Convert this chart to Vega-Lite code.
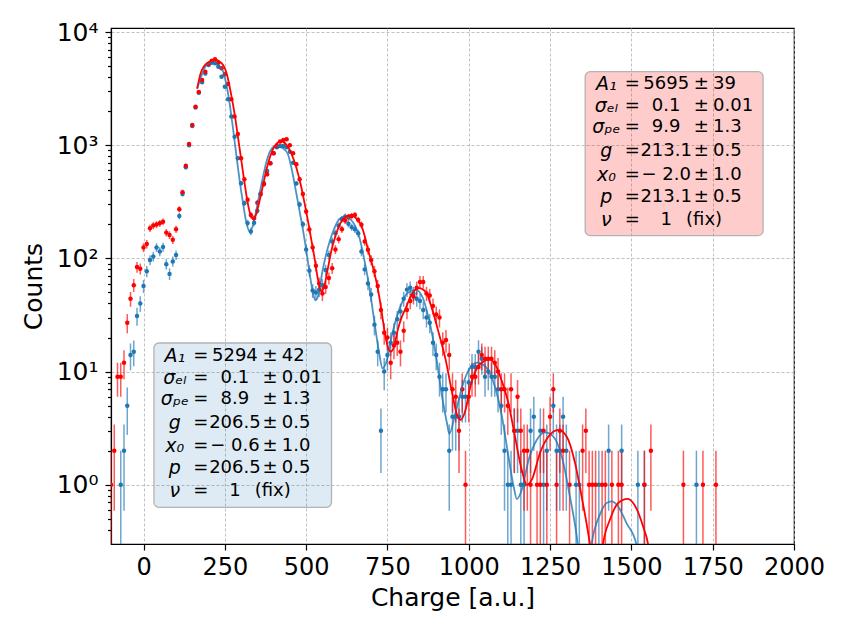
{
  "$schema": "https://vega.github.io/schema/vega-lite/v6.json",
  "width": 683,
  "height": 516,
  "autosize": {"type": "none"},
  "padding": {"left": 111, "top": 28, "right": 53, "bottom": 91},
  "config": {
    "font": "DejaVu Sans",
    "view": {"stroke": "black", "strokeWidth": 1.2},
    "axis": {
      "domainColor": "black", "domainWidth": 1.2,
      "tickColor": "black", "tickWidth": 1.2,
      "gridColor": "#b0b0b0", "gridDash": [3, 2], "gridWidth": 0.8,
      "labelColor": "black", "titleColor": "black",
      "titleFontWeight": "normal", "labelFont": "DejaVu Sans", "titleFont": "DejaVu Sans"
    }
  },
  "datasets": {
    "pts": [
      {"s":"b","x":-70,"n":1,"lo":0.1,"hi":2},
      {"s":"b","x":-60,"n":2,"lo":0.59,"hi":3.41},
      {"s":"b","x":-50,"n":5,"lo":2.76,"hi":7.24},
      {"s":"b","x":-40,"n":14,"lo":10.26,"hi":17.74},
      {"s":"b","x":-30,"n":15,"lo":11.13,"hi":18.87},
      {"s":"b","x":-20,"n":31,"lo":25.43,"hi":36.57},
      {"s":"b","x":-10,"n":40,"lo":33.68,"hi":46.32},
      {"s":"b","x":0,"n":57,"lo":49.45,"hi":64.55},
      {"s":"b","x":10,"n":77,"lo":68.23,"hi":85.77},
      {"s":"b","x":20,"n":97,"lo":87.15,"hi":106.85},
      {"s":"b","x":30,"n":104,"lo":93.8,"hi":114.2},
      {"s":"b","x":40,"n":125,"lo":113.8,"hi":136.2},
      {"s":"b","x":50,"n":115,"lo":104.3,"hi":125.7},
      {"s":"b","x":60,"n":126,"lo":114.8,"hi":137.2},
      {"s":"b","x":70,"n":89,"lo":79.6,"hi":98.4},
      {"s":"b","x":80,"n":73,"lo":64.5,"hi":81.5},
      {"s":"b","x":90,"n":94,"lo":84.3,"hi":103.7},
      {"s":"b","x":100,"n":107,"lo":96.7,"hi":117.3},
      {"s":"b","x":110,"n":237,"lo":221.6,"hi":252.4},
      {"s":"b","x":120,"n":371,"lo":351.7,"hi":390.3},
      {"s":"b","x":130,"n":640,"lo":614.7,"hi":665.3},
      {"s":"b","x":140,"n":1000,"lo":968,"hi":1032},
      {"s":"b","x":150,"n":1480,"lo":1442,"hi":1518},
      {"s":"b","x":160,"n":2150,"lo":2104,"hi":2196},
      {"s":"b","x":170,"n":2900,"lo":2846,"hi":2954},
      {"s":"b","x":180,"n":3600,"lo":3540,"hi":3660},
      {"s":"b","x":190,"n":4300,"lo":4234,"hi":4366},
      {"s":"b","x":200,"n":5110,"lo":5039,"hi":5181},
      {"s":"b","x":210,"n":5360,"lo":5287,"hi":5433},
      {"s":"b","x":220,"n":5290,"lo":5217,"hi":5363},
      {"s":"b","x":230,"n":4940,"lo":4870,"hi":5010},
      {"s":"b","x":240,"n":4030,"lo":3967,"hi":4093},
      {"s":"b","x":250,"n":3290,"lo":3233,"hi":3347},
      {"s":"b","x":260,"n":2550,"lo":2500,"hi":2600},
      {"s":"b","x":270,"n":1790,"lo":1748,"hi":1832},
      {"s":"b","x":280,"n":1190,"lo":1155,"hi":1225},
      {"s":"b","x":290,"n":767,"lo":739,"hi":795},
      {"s":"b","x":300,"n":461,"lo":439.5,"hi":482.5},
      {"s":"b","x":310,"n":307,"lo":289.5,"hi":324.5},
      {"s":"b","x":320,"n":205,"lo":190.7,"hi":219.3},
      {"s":"b","x":330,"n":173,"lo":159.8,"hi":186.2},
      {"s":"b","x":340,"n":207,"lo":192.6,"hi":221.4},
      {"s":"b","x":350,"n":263,"lo":246.8,"hi":279.2},
      {"s":"b","x":360,"n":371,"lo":351.7,"hi":390.3},
      {"s":"b","x":370,"n":461,"lo":439.5,"hi":482.5},
      {"s":"b","x":380,"n":593,"lo":568.6,"hi":617.4},
      {"s":"b","x":390,"n":692,"lo":665.7,"hi":718.3},
      {"s":"b","x":400,"n":849,"lo":819.9,"hi":878.1},
      {"s":"b","x":410,"n":959,"lo":928,"hi":990},
      {"s":"b","x":420,"n":985,"lo":953.6,"hi":1016.4},
      {"s":"b","x":430,"n":985,"lo":953.6,"hi":1016.4},
      {"s":"b","x":440,"n":959,"lo":928,"hi":990},
      {"s":"b","x":450,"n":877,"lo":847.4,"hi":906.6},
      {"s":"b","x":460,"n":700,"lo":673.5,"hi":726.5},
      {"s":"b","x":470,"n":460,"lo":438.6,"hi":481.4},
      {"s":"b","x":480,"n":300,"lo":282.7,"hi":317.3},
      {"s":"b","x":490,"n":200,"lo":185.9,"hi":214.1},
      {"s":"b","x":500,"n":120,"lo":109,"hi":131},
      {"s":"b","x":510,"n":78,"lo":69.2,"hi":86.8},
      {"s":"b","x":520,"n":52,"lo":44.8,"hi":59.2},
      {"s":"b","x":530,"n":50,"lo":42.9,"hi":57.1},
      {"s":"b","x":540,"n":53,"lo":45.7,"hi":60.3},
      {"s":"b","x":550,"n":58,"lo":50.4,"hi":65.6},
      {"s":"b","x":560,"n":79,"lo":70.1,"hi":87.9},
      {"s":"b","x":570,"n":107,"lo":96.7,"hi":117.3},
      {"s":"b","x":580,"n":141,"lo":129.1,"hi":152.9},
      {"s":"b","x":590,"n":167,"lo":154.1,"hi":179.9},
      {"s":"b","x":600,"n":194,"lo":180.1,"hi":207.9},
      {"s":"b","x":610,"n":222,"lo":207.1,"hi":236.9},
      {"s":"b","x":620,"n":234,"lo":218.7,"hi":249.3},
      {"s":"b","x":630,"n":202,"lo":187.8,"hi":216.2},
      {"s":"b","x":640,"n":189,"lo":175.3,"hi":202.7},
      {"s":"b","x":650,"n":181,"lo":167.5,"hi":194.5},
      {"s":"b","x":660,"n":167,"lo":154.1,"hi":179.9},
      {"s":"b","x":670,"n":115,"lo":104.3,"hi":125.7},
      {"s":"b","x":680,"n":80,"lo":71.1,"hi":88.9},
      {"s":"b","x":690,"n":60,"lo":52.3,"hi":67.7},
      {"s":"b","x":700,"n":48,"lo":41.1,"hi":54.9},
      {"s":"b","x":710,"n":26,"lo":20.9,"hi":31.1},
      {"s":"b","x":720,"n":15,"lo":11.13,"hi":18.87},
      {"s":"b","x":730,"n":3,"lo":1.27,"hi":4.73},
      {"s":"b","x":740,"n":10,"lo":6.84,"hi":13.16},
      {"s":"b","x":750,"n":14,"lo":10.26,"hi":17.74},
      {"s":"b","x":760,"n":18,"lo":13.76,"hi":22.24},
      {"s":"b","x":770,"n":22,"lo":17.31,"hi":26.69},
      {"s":"b","x":780,"n":29,"lo":23.61,"hi":34.39},
      {"s":"b","x":790,"n":34,"lo":28.17,"hi":39.83},
      {"s":"b","x":800,"n":44,"lo":37.37,"hi":50.63},
      {"s":"b","x":810,"n":53,"lo":45.72,"hi":60.28},
      {"s":"b","x":820,"n":55,"lo":47.58,"hi":62.42},
      {"s":"b","x":830,"n":49,"lo":42,"hi":56},
      {"s":"b","x":840,"n":44,"lo":37.37,"hi":50.63},
      {"s":"b","x":850,"n":42,"lo":35.52,"hi":48.48},
      {"s":"b","x":860,"n":35,"lo":29.08,"hi":40.92},
      {"s":"b","x":870,"n":30,"lo":24.52,"hi":35.48},
      {"s":"b","x":880,"n":27,"lo":21.8,"hi":32.2},
      {"s":"b","x":890,"n":18,"lo":13.76,"hi":22.24},
      {"s":"b","x":900,"n":14,"lo":10.26,"hi":17.74},
      {"s":"b","x":910,"n":9,"lo":6,"hi":12},
      {"s":"b","x":920,"n":7,"lo":4.35,"hi":9.65},
      {"s":"b","x":930,"n":7,"lo":4.35,"hi":9.65},
      {"s":"b","x":940,"n":2,"lo":0.59,"hi":3.41},
      {"s":"b","x":950,"n":4,"lo":2,"hi":6},
      {"s":"b","x":960,"n":4,"lo":2,"hi":6},
      {"s":"b","x":970,"n":4,"lo":2,"hi":6},
      {"s":"b","x":980,"n":6,"lo":3.55,"hi":8.45},
      {"s":"b","x":990,"n":6,"lo":3.55,"hi":8.45},
      {"s":"b","x":1000,"n":8,"lo":5.17,"hi":10.83},
      {"s":"b","x":1010,"n":11,"lo":7.68,"hi":14.32},
      {"s":"b","x":1020,"n":11,"lo":7.68,"hi":14.32},
      {"s":"b","x":1030,"n":15,"lo":11.13,"hi":18.87},
      {"s":"b","x":1040,"n":13,"lo":9.39,"hi":16.61},
      {"s":"b","x":1050,"n":9,"lo":6,"hi":12},
      {"s":"b","x":1060,"n":10,"lo":6.84,"hi":13.16},
      {"s":"b","x":1070,"n":9,"lo":6,"hi":12},
      {"s":"b","x":1080,"n":9,"lo":6,"hi":12},
      {"s":"b","x":1090,"n":7,"lo":4.35,"hi":9.65},
      {"s":"b","x":1100,"n":5,"lo":2.76,"hi":7.24},
      {"s":"b","x":1110,"n":2,"lo":0.59,"hi":3.41},
      {"s":"b","x":1120,"n":1,"lo":0.1,"hi":2},
      {"s":"b","x":1130,"n":1,"lo":0.1,"hi":2},
      {"s":"b","x":1140,"n":3,"lo":1.27,"hi":4.73},
      {"s":"b","x":1150,"n":3,"lo":1.27,"hi":4.73},
      {"s":"b","x":1160,"n":1,"lo":0.1,"hi":2},
      {"s":"b","x":1170,"n":1,"lo":0.1,"hi":2},
      {"s":"b","x":1190,"n":3,"lo":1.27,"hi":4.73},
      {"s":"b","x":1200,"n":4,"lo":2,"hi":6},
      {"s":"b","x":1220,"n":3,"lo":1.27,"hi":4.73},
      {"s":"b","x":1230,"n":1,"lo":0.1,"hi":2},
      {"s":"b","x":1240,"n":2,"lo":0.59,"hi":3.41},
      {"s":"b","x":1260,"n":5,"lo":2.76,"hi":7.24},
      {"s":"b","x":1270,"n":2,"lo":0.59,"hi":3.41},
      {"s":"b","x":1280,"n":2,"lo":0.59,"hi":3.41},
      {"s":"b","x":1290,"n":4,"lo":2,"hi":6},
      {"s":"b","x":1300,"n":2,"lo":0.59,"hi":3.41},
      {"s":"b","x":1330,"n":1,"lo":0.1,"hi":2},
      {"s":"b","x":1340,"n":1,"lo":0.1,"hi":2},
      {"s":"b","x":1400,"n":1,"lo":0.1,"hi":2},
      {"s":"b","x":1430,"n":2,"lo":0.59,"hi":3.41},
      {"s":"b","x":1470,"n":2,"lo":0.59,"hi":3.41},
      {"s":"b","x":1520,"n":1,"lo":0.1,"hi":2},
      {"s":"b","x":1540,"n":1,"lo":0.1,"hi":2},
      {"s":"b","x":1700,"n":1,"lo":0.1,"hi":2},
      {"s":"r","x":-100,"n":1,"lo":0.1,"hi":2},
      {"s":"r","x":-90,"n":2,"lo":0.59,"hi":3.41},
      {"s":"r","x":-80,"n":9,"lo":6,"hi":12},
      {"s":"r","x":-70,"n":9,"lo":6,"hi":12},
      {"s":"r","x":-60,"n":12,"lo":8.54,"hi":15.46},
      {"s":"r","x":-50,"n":27,"lo":21.8,"hi":32.2},
      {"s":"r","x":-40,"n":44,"lo":37.37,"hi":50.63},
      {"s":"r","x":-30,"n":58,"lo":50.38,"hi":65.62},
      {"s":"r","x":-20,"n":84,"lo":74.83,"hi":93.17},
      {"s":"r","x":-10,"n":81,"lo":72,"hi":90},
      {"s":"r","x":0,"n":125,"lo":113.8,"hi":136.2},
      {"s":"r","x":10,"n":134,"lo":122.4,"hi":145.6},
      {"s":"r","x":20,"n":185,"lo":171.4,"hi":198.6},
      {"s":"r","x":30,"n":195,"lo":181,"hi":209},
      {"s":"r","x":40,"n":199,"lo":184.9,"hi":213.1},
      {"s":"r","x":50,"n":204,"lo":189.7,"hi":218.3},
      {"s":"r","x":60,"n":211,"lo":196.5,"hi":225.5},
      {"s":"r","x":70,"n":169,"lo":156,"hi":182},
      {"s":"r","x":80,"n":161,"lo":148.3,"hi":173.7},
      {"s":"r","x":90,"n":146,"lo":133.9,"hi":158.1},
      {"s":"r","x":100,"n":181,"lo":167.5,"hi":194.5},
      {"s":"r","x":110,"n":272,"lo":255.5,"hi":288.5},
      {"s":"r","x":120,"n":385,"lo":365.4,"hi":404.6},
      {"s":"r","x":130,"n":660,"lo":634.3,"hi":685.7},
      {"s":"r","x":140,"n":1025,"lo":993,"hi":1057},
      {"s":"r","x":150,"n":1510,"lo":1471,"hi":1549},
      {"s":"r","x":160,"n":2190,"lo":2143,"hi":2237},
      {"s":"r","x":170,"n":2950,"lo":2896,"hi":3004},
      {"s":"r","x":180,"n":3770,"lo":3709,"hi":3831},
      {"s":"r","x":190,"n":4460,"lo":4393,"hi":4527},
      {"s":"r","x":200,"n":5220,"lo":5148,"hi":5292},
      {"s":"r","x":210,"n":5580,"lo":5505,"hi":5655},
      {"s":"r","x":220,"n":5740,"lo":5664,"hi":5816},
      {"s":"r","x":230,"n":5360,"lo":5287,"hi":5433},
      {"s":"r","x":240,"n":4780,"lo":4711,"hi":4849},
      {"s":"r","x":250,"n":4230,"lo":4165,"hi":4295},
      {"s":"r","x":260,"n":3470,"lo":3411,"hi":3529},
      {"s":"r","x":270,"n":2550,"lo":2500,"hi":2600},
      {"s":"r","x":280,"n":1790,"lo":1748,"hi":1832},
      {"s":"r","x":290,"n":1257,"lo":1222,"hi":1292},
      {"s":"r","x":300,"n":767,"lo":739,"hi":795},
      {"s":"r","x":310,"n":500,"lo":477.6,"hi":522.4},
      {"s":"r","x":320,"n":330,"lo":311.8,"hi":348.2},
      {"s":"r","x":330,"n":242,"lo":226.4,"hi":257.6},
      {"s":"r","x":340,"n":226,"lo":211,"hi":241},
      {"s":"r","x":350,"n":311,"lo":293.4,"hi":328.6},
      {"s":"r","x":360,"n":371,"lo":351.7,"hi":390.3},
      {"s":"r","x":370,"n":452,"lo":430.7,"hi":473.3},
      {"s":"r","x":380,"n":554,"lo":530.5,"hi":577.5},
      {"s":"r","x":390,"n":692,"lo":665.7,"hi":718.3},
      {"s":"r","x":400,"n":849,"lo":819.9,"hi":878.1},
      {"s":"r","x":410,"n":985,"lo":953.6,"hi":1016.4},
      {"s":"r","x":420,"n":1076,"lo":1043,"hi":1109},
      {"s":"r","x":430,"n":1112,"lo":1079,"hi":1145},
      {"s":"r","x":440,"n":1127,"lo":1093,"hi":1161},
      {"s":"r","x":450,"n":1000,"lo":968,"hi":1032},
      {"s":"r","x":460,"n":850,"lo":820.8,"hi":879.2},
      {"s":"r","x":470,"n":680,"lo":653.9,"hi":706.1},
      {"s":"r","x":480,"n":500,"lo":477.6,"hi":522.4},
      {"s":"r","x":490,"n":370,"lo":350.8,"hi":389.2},
      {"s":"r","x":500,"n":260,"lo":243.9,"hi":276.1},
      {"s":"r","x":510,"n":180,"lo":166.6,"hi":193.4},
      {"s":"r","x":520,"n":125,"lo":113.8,"hi":136.2},
      {"s":"r","x":530,"n":86,"lo":76.73,"hi":95.27},
      {"s":"r","x":540,"n":60,"lo":52.25,"hi":67.75},
      {"s":"r","x":550,"n":49,"lo":42,"hi":56},
      {"s":"r","x":560,"n":56,"lo":48.52,"hi":63.48},
      {"s":"r","x":570,"n":67,"lo":58.81,"hi":75.19},
      {"s":"r","x":580,"n":82,"lo":72.94,"hi":91.06},
      {"s":"r","x":590,"n":120,"lo":109.05,"hi":130.95},
      {"s":"r","x":600,"n":148,"lo":135.8,"hi":160.2},
      {"s":"r","x":610,"n":181,"lo":167.5,"hi":194.5},
      {"s":"r","x":620,"n":216,"lo":201.3,"hi":230.7},
      {"s":"r","x":630,"n":231,"lo":215.8,"hi":246.2},
      {"s":"r","x":640,"n":237,"lo":221.6,"hi":252.4},
      {"s":"r","x":650,"n":242,"lo":226.4,"hi":257.6},
      {"s":"r","x":660,"n":219,"lo":204.2,"hi":233.8},
      {"s":"r","x":670,"n":198,"lo":183.9,"hi":212.1},
      {"s":"r","x":680,"n":141,"lo":129.1,"hi":152.9},
      {"s":"r","x":690,"n":119,"lo":108.1,"hi":129.9},
      {"s":"r","x":700,"n":97,"lo":87.15,"hi":106.85},
      {"s":"r","x":710,"n":77,"lo":68.23,"hi":85.77},
      {"s":"r","x":720,"n":57,"lo":49.45,"hi":64.55},
      {"s":"r","x":730,"n":35,"lo":29.08,"hi":40.92},
      {"s":"r","x":740,"n":22,"lo":17.31,"hi":26.69},
      {"s":"r","x":750,"n":20,"lo":15.53,"hi":24.47},
      {"s":"r","x":760,"n":12,"lo":8.54,"hi":15.46},
      {"s":"r","x":770,"n":17,"lo":12.88,"hi":21.12},
      {"s":"r","x":780,"n":18,"lo":13.76,"hi":22.24},
      {"s":"r","x":790,"n":15,"lo":11.13,"hi":18.87},
      {"s":"r","x":800,"n":23,"lo":18.2,"hi":27.8},
      {"s":"r","x":810,"n":35,"lo":29.08,"hi":40.92},
      {"s":"r","x":820,"n":42,"lo":35.52,"hi":48.48},
      {"s":"r","x":830,"n":46,"lo":39.22,"hi":52.78},
      {"s":"r","x":840,"n":55,"lo":47.58,"hi":62.42},
      {"s":"r","x":850,"n":62,"lo":54.13,"hi":69.87},
      {"s":"r","x":860,"n":62,"lo":54.13,"hi":69.87},
      {"s":"r","x":870,"n":49,"lo":42,"hi":56},
      {"s":"r","x":880,"n":47,"lo":40.14,"hi":53.86},
      {"s":"r","x":890,"n":38,"lo":31.84,"hi":44.16},
      {"s":"r","x":900,"n":32,"lo":26.34,"hi":37.66},
      {"s":"r","x":910,"n":30,"lo":24.52,"hi":35.48},
      {"s":"r","x":920,"n":18,"lo":13.76,"hi":22.24},
      {"s":"r","x":930,"n":19,"lo":14.64,"hi":23.36},
      {"s":"r","x":940,"n":14,"lo":10.26,"hi":17.74},
      {"s":"r","x":950,"n":7,"lo":4.35,"hi":9.65},
      {"s":"r","x":960,"n":6,"lo":3.55,"hi":8.45},
      {"s":"r","x":970,"n":3,"lo":1.27,"hi":4.73},
      {"s":"r","x":980,"n":7,"lo":4.35,"hi":9.65},
      {"s":"r","x":990,"n":1,"lo":0.1,"hi":2},
      {"s":"r","x":1000,"n":6,"lo":3.55,"hi":8.45},
      {"s":"r","x":1010,"n":9,"lo":6,"hi":12},
      {"s":"r","x":1020,"n":9,"lo":6,"hi":12},
      {"s":"r","x":1030,"n":11,"lo":7.68,"hi":14.32},
      {"s":"r","x":1040,"n":14,"lo":10.26,"hi":17.74},
      {"s":"r","x":1050,"n":13,"lo":9.39,"hi":16.61},
      {"s":"r","x":1060,"n":13,"lo":9.39,"hi":16.61},
      {"s":"r","x":1070,"n":13,"lo":9.39,"hi":16.61},
      {"s":"r","x":1080,"n":12,"lo":8.54,"hi":15.46},
      {"s":"r","x":1090,"n":10,"lo":6.84,"hi":13.16},
      {"s":"r","x":1100,"n":7,"lo":4.35,"hi":9.65},
      {"s":"r","x":1110,"n":7,"lo":4.35,"hi":9.65},
      {"s":"r","x":1120,"n":5,"lo":2.76,"hi":7.24},
      {"s":"r","x":1130,"n":7,"lo":4.35,"hi":9.65},
      {"s":"r","x":1140,"n":3,"lo":1.27,"hi":4.73},
      {"s":"r","x":1150,"n":6,"lo":3.55,"hi":8.45},
      {"s":"r","x":1160,"n":3,"lo":1.27,"hi":4.73},
      {"s":"r","x":1170,"n":2,"lo":0.59,"hi":3.41},
      {"s":"r","x":1180,"n":2,"lo":0.59,"hi":3.41},
      {"s":"r","x":1190,"n":1,"lo":0.1,"hi":2},
      {"s":"r","x":1210,"n":1,"lo":0.1,"hi":2},
      {"s":"r","x":1220,"n":1,"lo":0.1,"hi":2},
      {"s":"r","x":1230,"n":3,"lo":1.27,"hi":4.73},
      {"s":"r","x":1240,"n":1,"lo":0.1,"hi":2},
      {"s":"r","x":1250,"n":4,"lo":2,"hi":6},
      {"s":"r","x":1260,"n":7,"lo":4.35,"hi":9.65},
      {"s":"r","x":1270,"n":1,"lo":0.1,"hi":2},
      {"s":"r","x":1280,"n":3,"lo":1.27,"hi":4.73},
      {"s":"r","x":1290,"n":2,"lo":0.59,"hi":3.41},
      {"s":"r","x":1310,"n":1,"lo":0.1,"hi":2},
      {"s":"r","x":1350,"n":2,"lo":0.59,"hi":3.41},
      {"s":"r","x":1360,"n":3,"lo":1.27,"hi":4.73},
      {"s":"r","x":1370,"n":1,"lo":0.1,"hi":2},
      {"s":"r","x":1380,"n":1,"lo":0.1,"hi":2},
      {"s":"r","x":1390,"n":1,"lo":0.1,"hi":2},
      {"s":"r","x":1410,"n":1,"lo":0.1,"hi":2},
      {"s":"r","x":1420,"n":1,"lo":0.1,"hi":2},
      {"s":"r","x":1440,"n":1,"lo":0.1,"hi":2},
      {"s":"r","x":1460,"n":1,"lo":0.1,"hi":2},
      {"s":"r","x":1470,"n":1,"lo":0.1,"hi":2},
      {"s":"r","x":1540,"n":1,"lo":0.1,"hi":2},
      {"s":"r","x":1560,"n":2,"lo":0.59,"hi":3.41},
      {"s":"r","x":1660,"n":1,"lo":0.1,"hi":2},
      {"s":"r","x":1720,"n":1,"lo":0.1,"hi":2},
      {"s":"r","x":1760,"n":1,"lo":0.1,"hi":2}
    ],
    "fit": [
      {"s":"b","seg":"b1","x":165,"y":3162},
      {"s":"b","seg":"b1","x":179,"y":4169},
      {"s":"b","seg":"b1","x":194,"y":5117},
      {"s":"b","seg":"b1","x":212,"y":5395},
      {"s":"b","seg":"b1","x":230,"y":5117},
      {"s":"b","seg":"b1","x":245,"y":4467},
      {"s":"b","seg":"b1","x":255,"y":3404},
      {"s":"b","seg":"b1","x":265.5,"y":2265},
      {"s":"b","seg":"b1","x":275.7,"y":1365},
      {"s":"b","seg":"b1","x":286,"y":793},
      {"s":"b","seg":"b1","x":296,"y":476},
      {"s":"b","seg":"b1","x":306,"y":307},
      {"s":"b","seg":"b1","x":316.5,"y":205},
      {"s":"b","seg":"b1","x":326.7,"y":173},
      {"s":"b","seg":"b1","x":337,"y":198},
      {"s":"b","seg":"b1","x":347,"y":268},
      {"s":"b","seg":"b1","x":357,"y":376},
      {"s":"b","seg":"b1","x":367.5,"y":528},
      {"s":"b","seg":"b1","x":378,"y":716},
      {"s":"b","seg":"b1","x":390,"y":895},
      {"s":"b","seg":"b1","x":408,"y":984},
      {"s":"b","seg":"b1","x":429,"y":940},
      {"s":"b","seg":"b1","x":444,"y":832},
      {"s":"b","seg":"b1","x":457,"y":589},
      {"s":"b","seg":"b1","x":469.5,"y":380},
      {"s":"b","seg":"b1","x":480,"y":260},
      {"s":"b","seg":"b1","x":490,"y":180},
      {"s":"b","seg":"b1","x":500,"y":120},
      {"s":"b","seg":"b1","x":510,"y":76},
      {"s":"b","seg":"b1","x":520.6,"y":50},
      {"s":"b","seg":"b1","x":528.7,"y":42.7},
      {"s":"b","seg":"b1","x":539,"y":49.3},
      {"s":"b","seg":"b1","x":549,"y":74},
      {"s":"b","seg":"b1","x":561,"y":107},
      {"s":"b","seg":"b1","x":574,"y":146},
      {"s":"b","seg":"b1","x":587,"y":185},
      {"s":"b","seg":"b1","x":602,"y":223},
      {"s":"b","seg":"b1","x":617.5,"y":234},
      {"s":"b","seg":"b1","x":638,"y":219},
      {"s":"b","seg":"b1","x":650,"y":195},
      {"s":"b","seg":"b1","x":663,"y":156},
      {"s":"b","seg":"b1","x":679,"y":97},
      {"s":"b","seg":"b1","x":694,"y":56.4},
      {"s":"b","seg":"b1","x":709,"y":28.6},
      {"s":"b","seg":"b1","x":724.5,"y":14.6},
      {"s":"b","seg":"b1","x":734.7,"y":10.7},
      {"s":"b","seg":"b1","x":747,"y":12.3},
      {"s":"b","seg":"b1","x":765,"y":21.8},
      {"s":"b","seg":"b1","x":786,"y":35.1},
      {"s":"b","seg":"b1","x":811,"y":49.3},
      {"s":"b","seg":"b1","x":837,"y":52.7},
      {"s":"b","seg":"b1","x":857,"y":46},
      {"s":"b","seg":"b1","x":878,"y":28.6},
      {"s":"b","seg":"b1","x":898,"y":14.6},
      {"s":"b","seg":"b1","x":918,"y":6.03},
      {"s":"b","seg":"b1","x":934,"y":3.39},
      {"s":"b","seg":"b1","x":940,"y":2.82},
      {"s":"b","seg":"b1","x":959,"y":4.3},
      {"s":"b","seg":"b1","x":980,"y":7.38},
      {"s":"b","seg":"b1","x":1000,"y":10.35},
      {"s":"b","seg":"b1","x":1026,"y":12.0},
      {"s":"b","seg":"b1","x":1051,"y":11.1},
      {"s":"b","seg":"b1","x":1077,"y":7.91},
      {"s":"b","seg":"b1","x":1102,"y":4.01},
      {"s":"b","seg":"b1","x":1122,"y":1.78},
      {"s":"b","seg":"b1","x":1138,"y":0.966},
      {"s":"b","seg":"b1","x":1148,"y":0.748},
      {"s":"b","seg":"b1","x":1163,"y":0.904},
      {"s":"b","seg":"b1","x":1184,"y":1.66},
      {"s":"b","seg":"b1","x":1209,"y":2.49},
      {"s":"b","seg":"b1","x":1235,"y":2.9},
      {"s":"b","seg":"b1","x":1260,"y":2.67},
      {"s":"b","seg":"b1","x":1286,"y":1.78},
      {"s":"b","seg":"b1","x":1311,"y":0.789},
      {"s":"b","seg":"b1","x":1335,"y":0.302},
      {"s":"b","seg":"b1","x":1342,"y":0.2},
      {"s":"b","seg":"b2","x":1370,"y":0.2},
      {"s":"b","seg":"b2","x":1378,"y":0.302},
      {"s":"b","seg":"b2","x":1403,"y":0.543},
      {"s":"b","seg":"b2","x":1423.5,"y":0.689},
      {"s":"b","seg":"b2","x":1439,"y":0.713},
      {"s":"b","seg":"b2","x":1459,"y":0.644},
      {"s":"b","seg":"b2","x":1485,"y":0.459},
      {"s":"b","seg":"b2","x":1515,"y":0.302},
      {"s":"b","seg":"b2","x":1522,"y":0.2},
      {"s":"r","seg":"r1","x":165,"y":3162},
      {"s":"r","seg":"r1","x":175,"y":4266},
      {"s":"r","seg":"r1","x":195,"y":5309},
      {"s":"r","seg":"r1","x":220,"y":5689},
      {"s":"r","seg":"r1","x":240,"y":5309},
      {"s":"r","seg":"r1","x":255,"y":4365},
      {"s":"r","seg":"r1","x":270,"y":2754},
      {"s":"r","seg":"r1","x":281,"y":1820},
      {"s":"r","seg":"r1","x":291,"y":1148},
      {"s":"r","seg":"r1","x":301,"y":724},
      {"s":"r","seg":"r1","x":311,"y":457},
      {"s":"r","seg":"r1","x":321,"y":302},
      {"s":"r","seg":"r1","x":331,"y":234},
      {"s":"r","seg":"r1","x":339,"y":221},
      {"s":"r","seg":"r1","x":350,"y":269},
      {"s":"r","seg":"r1","x":362,"y":376},
      {"s":"r","seg":"r1","x":373,"y":525},
      {"s":"r","seg":"r1","x":383,"y":692},
      {"s":"r","seg":"r1","x":393,"y":851},
      {"s":"r","seg":"r1","x":403,"y":977},
      {"s":"r","seg":"r1","x":423,"y":1084},
      {"s":"r","seg":"r1","x":439,"y":1012},
      {"s":"r","seg":"r1","x":454,"y":851},
      {"s":"r","seg":"r1","x":470,"y":631},
      {"s":"r","seg":"r1","x":485,"y":427},
      {"s":"r","seg":"r1","x":495,"y":309},
      {"s":"r","seg":"r1","x":505,"y":219},
      {"s":"r","seg":"r1","x":515,"y":151},
      {"s":"r","seg":"r1","x":526,"y":100},
      {"s":"r","seg":"r1","x":536,"y":66},
      {"s":"r","seg":"r1","x":546,"y":51.3},
      {"s":"r","seg":"r1","x":556,"y":57.5},
      {"s":"r","seg":"r1","x":566,"y":79.4},
      {"s":"r","seg":"r1","x":577,"y":115},
      {"s":"r","seg":"r1","x":590,"y":158},
      {"s":"r","seg":"r1","x":605,"y":204},
      {"s":"r","seg":"r1","x":620,"y":232},
      {"s":"r","seg":"r1","x":639,"y":242},
      {"s":"r","seg":"r1","x":655,"y":224},
      {"s":"r","seg":"r1","x":668,"y":200},
      {"s":"r","seg":"r1","x":680,"y":158},
      {"s":"r","seg":"r1","x":690,"y":120},
      {"s":"r","seg":"r1","x":700,"y":95.5},
      {"s":"r","seg":"r1","x":710,"y":74.1},
      {"s":"r","seg":"r1","x":720,"y":55},
      {"s":"r","seg":"r1","x":731,"y":35.5},
      {"s":"r","seg":"r1","x":741,"y":22.9},
      {"s":"r","seg":"r1","x":749,"y":17.4},
      {"s":"r","seg":"r1","x":760,"y":15.0},
      {"s":"r","seg":"r1","x":770,"y":16.6},
      {"s":"r","seg":"r1","x":781,"y":22.9},
      {"s":"r","seg":"r1","x":791,"y":28.8},
      {"s":"r","seg":"r1","x":806,"y":36.3},
      {"s":"r","seg":"r1","x":826,"y":49},
      {"s":"r","seg":"r1","x":847,"y":54.6},
      {"s":"r","seg":"r1","x":867,"y":50.9},
      {"s":"r","seg":"r1","x":888,"y":35.1},
      {"s":"r","seg":"r1","x":908,"y":21.8},
      {"s":"r","seg":"r1","x":929,"y":12.7},
      {"s":"r","seg":"r1","x":949,"y":6.46},
      {"s":"r","seg":"r1","x":964,"y":4.15},
      {"s":"r","seg":"r1","x":974.5,"y":3.75},
      {"s":"r","seg":"r1","x":990,"y":4.59},
      {"s":"r","seg":"r1","x":1005,"y":7.38},
      {"s":"r","seg":"r1","x":1025,"y":10.7},
      {"s":"r","seg":"r1","x":1046,"y":12.3},
      {"s":"r","seg":"r1","x":1063,"y":12.8},
      {"s":"r","seg":"r1","x":1082,"y":11.5},
      {"s":"r","seg":"r1","x":1100,"y":8.51},
      {"s":"r","seg":"r1","x":1122,"y":5.25},
      {"s":"r","seg":"r1","x":1140,"y":2.88},
      {"s":"r","seg":"r1","x":1163,"y":1.35},
      {"s":"r","seg":"r1","x":1178.6,"y":1.0},
      {"s":"r","seg":"r1","x":1194,"y":1.11},
      {"s":"r","seg":"r1","x":1219,"y":1.91},
      {"s":"r","seg":"r1","x":1245,"y":2.67},
      {"s":"r","seg":"r1","x":1276,"y":3.06},
      {"s":"r","seg":"r1","x":1301,"y":2.67},
      {"s":"r","seg":"r1","x":1327,"y":1.55},
      {"s":"r","seg":"r1","x":1347,"y":0.789},
      {"s":"r","seg":"r1","x":1362,"y":0.459},
      {"s":"r","seg":"r1","x":1372.5,"y":0.302},
      {"s":"r","seg":"r1","x":1380,"y":0.22},
      {"s":"r","seg":"r2","x":1405,"y":0.2},
      {"s":"r","seg":"r2","x":1413,"y":0.302},
      {"s":"r","seg":"r2","x":1434,"y":0.491},
      {"s":"r","seg":"r2","x":1459,"y":0.689},
      {"s":"r","seg":"r2","x":1488,"y":0.752},
      {"s":"r","seg":"r2","x":1515,"y":0.622},
      {"s":"r","seg":"r2","x":1536,"y":0.429},
      {"s":"r","seg":"r2","x":1551,"y":0.302},
      {"s":"r","seg":"r2","x":1558,"y":0.22}
    ],
    "txt": [
      {"b":"r","ty":3440,"sym":"A₁","val":"5695","pm":"±","err":"39","note":""},
      {"b":"r","ty":2199,"sym":"σₑₗ","val":"0.1","pm":"±","err":"0.01","note":""},
      {"b":"r","ty":1443,"sym":"σₚₑ","val":"9.9","pm":"±","err":"1.3","note":""},
      {"b":"r","ty":881,"sym":"g","val":"213.1","pm":"±","err":"0.5","note":""},
      {"b":"r","ty":546,"sym":"x₀","val":"− 2.0","pm":"±","err":"1.0","note":""},
      {"b":"r","ty":351,"sym":"p","val":"213.1","pm":"±","err":"0.5","note":""},
      {"b":"r","ty":220,"sym":"ν","val":"1","pm":"","err":"","note":"(fix)"},
      {"b":"b","ty":13.75,"sym":"A₁","val":"5294","pm":"±","err":"42","note":""},
      {"b":"b","ty":8.79,"sym":"σₑₗ","val":"0.1","pm":"±","err":"0.01","note":""},
      {"b":"b","ty":5.77,"sym":"σₚₑ","val":"8.9","pm":"±","err":"1.3","note":""},
      {"b":"b","ty":3.52,"sym":"g","val":"206.5","pm":"±","err":"0.5","note":""},
      {"b":"b","ty":2.18,"sym":"x₀","val":"− 0.6","pm":"±","err":"1.0","note":""},
      {"b":"b","ty":1.4,"sym":"p","val":"206.5","pm":"±","err":"0.5","note":""},
      {"b":"b","ty":0.878,"sym":"ν","val":"1","pm":"","err":"","note":"(fix)"}
    ]
  },
  "layer": [
    {
      "data": {"name": "pts"},
      "mark": {"type": "rule", "strokeWidth": 1.5, "opacity": 0.65, "clip": true},
      "encoding": {
        "x": {
          "field": "x", "type": "quantitative",
          "scale": {"domain": [-100, 2000], "nice": false, "zero": false},
          "axis": {
            "values": [0, 250, 500, 750, 1000, 1250, 1500, 1750, 2000],
            "format": "d",
            "labelFontSize": 24, "labelFlush": false, "labelPadding": 5, "tickSize": 6,
            "grid": true, "title": "Charge [a.u.]", "titleFontSize": 25, "titlePadding": 6
          }
        },
        "y": {
          "field": "lo", "type": "quantitative",
          "scale": {"type": "log", "domain": [0.3, 10850], "nice": false},
          "axis": {
            "values": [0.4, 0.5, 0.6, 0.7, 0.8, 0.9, 1, 2, 3, 4, 5, 6, 7, 8, 9, 10, 20, 30, 40, 50, 60, 70, 80, 90, 100, 200, 300, 400, 500, 600, 700, 800, 900, 1000, 2000, 3000, 4000, 5000, 6000, 7000, 8000, 9000, 10000],
            "labelExpr": "abs(log(datum.value)/LN10 - round(log(datum.value)/LN10)) < 0.001 ? '10' + ['⁰','¹','²','³','⁴'][round(log(datum.value)/LN10)] : ''",
            "labelOverlap": false,
            "labelFontSize": 25, "labelPadding": 7,
            "tickSize": {"condition": {"test": "abs(log(datum.value)/LN10 - round(log(datum.value)/LN10)) < 0.001", "value": 6}, "value": 3.5},
            "gridOpacity": {"condition": {"test": "abs(log(datum.value)/LN10 - round(log(datum.value)/LN10)) < 0.001", "value": 1}, "value": 0},
            "grid": true, "title": "Counts", "titleFontSize": 25, "titlePadding": 10
          }
        },
        "y2": {"field": "hi"},
        "color": {"field": "s", "type": "nominal", "scale": {"domain": ["b", "r"], "range": ["#1f77b4", "#ff0000"]}, "legend": null}
      }
    },
    {
      "data": {"name": "pts"},
      "mark": {"type": "circle", "size": 20, "opacity": 1, "clip": true},
      "encoding": {
        "x": {"field": "x", "type": "quantitative"},
        "y": {"field": "n", "type": "quantitative"},
        "color": {"field": "s", "type": "nominal", "legend": null}
      }
    },
    {
      "data": {"name": "fit"},
      "mark": {"type": "line", "strokeWidth": 1.8, "interpolate": "monotone", "clip": true},
      "encoding": {
        "x": {"field": "x", "type": "quantitative"},
        "y": {"field": "y", "type": "quantitative"},
        "detail": {"field": "seg"},
        "color": {"field": "s", "type": "nominal", "legend": null},
        "opacity": {"condition": {"test": "datum.s == 'b'", "value": 0.8}, "value": 1}
      }
    },
    {
      "data": {"values": [{}]},
      "mark": {"type": "rect", "fill": "#ff0000", "fillOpacity": 0.2, "stroke": "#b3b3b3", "strokeWidth": 1.3, "cornerRadius": 5},
      "encoding": {"x": {"datum": 1358}, "x2": {"datum": 1905}, "y": {"datum": 4460}, "y2": {"datum": 159}}
    },
    {
      "data": {"values": [{}]},
      "mark": {"type": "rect", "fill": "#1f77b4", "fillOpacity": 0.15, "stroke": "#b3b3b3", "strokeWidth": 1.3, "cornerRadius": 5},
      "encoding": {"x": {"datum": 32}, "x2": {"datum": 578}, "y": {"datum": 17.9}, "y2": {"datum": 0.633}}
    },
    {
      "data": {"name": "txt"}, "transform": [{"filter": "datum.b == 'r'"}],
      "mark": {"type": "text", "fontSize": 19, "fontStyle": "italic", "align": "center", "baseline": "middle"},
      "encoding": {"x": {"datum": 1423}, "y": {"field": "ty", "type": "quantitative"}, "text": {"field": "sym"}}
    },
    {
      "data": {"name": "txt"}, "transform": [{"filter": "datum.b == 'r'"}],
      "mark": {"type": "text", "fontSize": 18, "align": "center", "baseline": "middle", "text": "="},
      "encoding": {"x": {"datum": 1503}, "y": {"field": "ty", "type": "quantitative"}}
    },
    {
      "data": {"name": "txt"}, "transform": [{"filter": "datum.b == 'r'"}],
      "mark": {"type": "text", "fontSize": 18, "align": "center", "baseline": "middle"},
      "encoding": {"x": {"datum": 1607}, "y": {"field": "ty", "type": "quantitative"}, "text": {"field": "val"}}
    },
    {
      "data": {"name": "txt"}, "transform": [{"filter": "datum.b == 'r'"}],
      "mark": {"type": "text", "fontSize": 18, "align": "center", "baseline": "middle"},
      "encoding": {"x": {"datum": 1715}, "y": {"field": "ty", "type": "quantitative"}, "text": {"field": "pm"}}
    },
    {
      "data": {"name": "txt"}, "transform": [{"filter": "datum.b == 'r'"}],
      "mark": {"type": "text", "fontSize": 18, "align": "left", "baseline": "middle"},
      "encoding": {"x": {"datum": 1751}, "y": {"field": "ty", "type": "quantitative"}, "text": {"field": "err"}}
    },
    {
      "data": {"name": "txt"}, "transform": [{"filter": "datum.b == 'r'"}],
      "mark": {"type": "text", "fontSize": 18, "align": "left", "baseline": "middle"},
      "encoding": {"x": {"datum": 1668}, "y": {"field": "ty", "type": "quantitative"}, "text": {"field": "note"}}
    },
    {
      "data": {"name": "txt"}, "transform": [{"filter": "datum.b == 'b'"}],
      "mark": {"type": "text", "fontSize": 19, "fontStyle": "italic", "align": "center", "baseline": "middle"},
      "encoding": {"x": {"datum": 96}, "y": {"field": "ty", "type": "quantitative"}, "text": {"field": "sym"}}
    },
    {
      "data": {"name": "txt"}, "transform": [{"filter": "datum.b == 'b'"}],
      "mark": {"type": "text", "fontSize": 18, "align": "center", "baseline": "middle", "text": "="},
      "encoding": {"x": {"datum": 176}, "y": {"field": "ty", "type": "quantitative"}}
    },
    {
      "data": {"name": "txt"}, "transform": [{"filter": "datum.b == 'b'"}],
      "mark": {"type": "text", "fontSize": 18, "align": "center", "baseline": "middle"},
      "encoding": {"x": {"datum": 281}, "y": {"field": "ty", "type": "quantitative"}, "text": {"field": "val"}}
    },
    {
      "data": {"name": "txt"}, "transform": [{"filter": "datum.b == 'b'"}],
      "mark": {"type": "text", "fontSize": 18, "align": "center", "baseline": "middle"},
      "encoding": {"x": {"datum": 389}, "y": {"field": "ty", "type": "quantitative"}, "text": {"field": "pm"}}
    },
    {
      "data": {"name": "txt"}, "transform": [{"filter": "datum.b == 'b'"}],
      "mark": {"type": "text", "fontSize": 18, "align": "left", "baseline": "middle"},
      "encoding": {"x": {"datum": 425}, "y": {"field": "ty", "type": "quantitative"}, "text": {"field": "err"}}
    },
    {
      "data": {"name": "txt"}, "transform": [{"filter": "datum.b == 'b'"}],
      "mark": {"type": "text", "fontSize": 18, "align": "left", "baseline": "middle"},
      "encoding": {"x": {"datum": 342}, "y": {"field": "ty", "type": "quantitative"}, "text": {"field": "note"}}
    }
  ]
}
